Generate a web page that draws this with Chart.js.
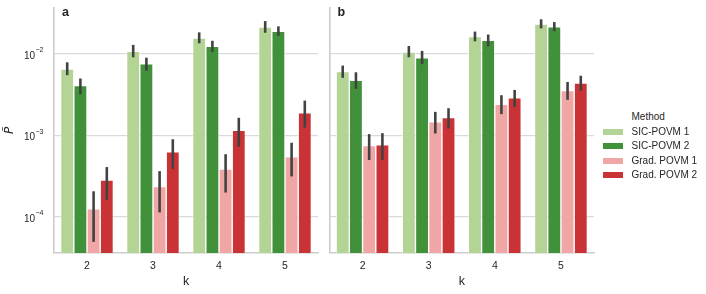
<!DOCTYPE html>
<html>
<head>
<meta charset="utf-8">
<script src="https://cdn.jsdelivr.net/npm/chart.js@4/dist/chart.umd.min.js"></script>
<style>
  html, body { margin: 0; padding: 0; background: #ffffff; }
  #wrap { position: relative; width: 706px; height: 294px; overflow: hidden; font-family: "Liberation Sans", Arial, sans-serif; color: #262626; }
  canvas { position: absolute; top: 0; }
  .lg { position: absolute; font-size: 10px; line-height: 14px; height: 14px; white-space: nowrap; }
  .sw { position: absolute; width: 20px; height: 6px; }
</style>
</head>
<body>
<div id="wrap">
  <canvas id="ca" width="322" height="294" style="left:0px"></canvas>
  <canvas id="cb" width="290" height="294" style="left:322px"></canvas>
  <div id="legend"></div>
</div>
<script>
// ---------- data ----------
const categories = ['2', '3', '4', '5'];
const methods = ['SIC-POVM 1', 'SIC-POVM 2', 'Grad. POVM 1', 'Grad. POVM 2'];
const panelLabels = ['a', 'b'];
const legendTitle = 'Method';
const xTitle = 'k';
const yTitle = 'P\u0303';
const yTickExponents = [-4, -3, -2];

// panel a: means and error-bar bounds
const aSic1 = [0.00655, 0.0108, 0.0157, 0.0214];
const aSic1Lo = [0.0055, 0.0091, 0.0135, 0.0182];
const aSic1Hi = [0.0079, 0.0129, 0.0184, 0.0253];
const aSic2 = [0.0041, 0.00755, 0.0124, 0.019];
const aSic2Lo = [0.0032, 0.00625, 0.0106, 0.0167];
const aSic2Hi = [0.0050, 0.0090, 0.0145, 0.0218];
const aGrad1 = [1.26e-4, 2.36e-4, 3.88e-4, 5.48e-4];
const aGrad1Lo = [4.96e-5, 1.14e-4, 2.0e-4, 3.15e-4];
const aGrad1Hi = [2.07e-4, 3.66e-4, 5.9e-4, 8.15e-4];
const aGrad2 = [2.84e-4, 6.3e-4, 1.16e-3, 1.9e-3];
const aGrad2Lo = [1.63e-4, 3.88e-4, 7.3e-4, 1.25e-3];
const aGrad2Hi = [4.1e-4, 9.0e-4, 1.65e-3, 2.68e-3];

// panel b
const bSic1 = [6.08e-3, 0.01057, 0.0163, 0.0233];
const bSic1Lo = [5.1e-3, 0.0091, 0.0143, 0.0206];
const bSic1Hi = [7.2e-3, 0.0125, 0.0188, 0.0266];
const bSic2 = [4.76e-3, 0.0090, 0.0147, 0.0216];
const bSic2Lo = [3.73e-3, 0.0075, 0.0124, 0.019];
const bSic2Hi = [5.96e-3, 0.0109, 0.0173, 0.0246];
const bGrad1 = [7.55e-4, 1.47e-3, 2.42e-3, 3.56e-3];
const bGrad1Lo = [5.0e-4, 1.06e-3, 1.83e-3, 2.74e-3];
const bGrad1Hi = [1.04e-3, 1.95e-3, 3.12e-3, 4.54e-3];
const bGrad2 = [7.69e-4, 1.66e-3, 2.89e-3, 4.41e-3];
const bGrad2Lo = [5.0e-4, 1.22e-3, 2.24e-3, 3.53e-3];
const bGrad2Hi = [1.07e-3, 2.16e-3, 3.62e-3, 5.41e-3];

// ---------- styles ----------
const colors = ['#b3d495', '#40913a', '#efa6a5', '#ca3335'];
const FONT = '"Liberation Sans", Arial, sans-serif';
const TEXT = '#262626';
const GRID = '#dadada';
const SPINE = '#cccccc';
const Y_MIN = 3.625e-5;
const Y_MAX = 0.0366;

Chart.defaults.font.family = FONT;
Chart.defaults.color = TEXT;

const errorBars = {
  id: 'errorBars',
  afterDatasetsDraw(chart) {
    const ctx = chart.ctx;
    const ys = chart.scales.y;
    ctx.save();
    ctx.strokeStyle = '#424242';
    ctx.lineWidth = 2.6;
    ctx.lineCap = 'butt';
    chart.data.datasets.forEach((ds, i) => {
      const meta = chart.getDatasetMeta(i);
      meta.data.forEach((el, j) => {
        const y1 = ys.getPixelForValue(ds.errLo[j]);
        const y2 = ys.getPixelForValue(ds.errHi[j]);
        ctx.beginPath();
        ctx.moveTo(el.x, y1);
        ctx.lineTo(el.x, y2);
        ctx.stroke();
      });
    });
    ctx.restore();
  }
};

const panelLabel = {
  id: 'panelLabel',
  afterDraw(chart, args, opts) {
    const ctx = chart.ctx;
    ctx.save();
    ctx.font = 'bold 12.5px ' + FONT;
    ctx.fillStyle = TEXT;
    ctx.textAlign = 'left';
    ctx.textBaseline = 'middle';
    ctx.fillText(opts.text, chart.chartArea.left + 8, 12.5);
    ctx.restore();
  }
};

const powTicks = {
  id: 'powTicks',
  afterDraw(chart, args, opts) {
    if (!opts.show) return;
    const ctx = chart.ctx;
    const ys = chart.scales.y;
    ctx.save();
    ctx.fillStyle = TEXT;
    ctx.textBaseline = 'middle';
    ctx.textAlign = 'right';
    yTickExponents.forEach(e => {
      const y = ys.getPixelForValue(Math.pow(10, e));
      const sup = '\u2212' + Math.abs(e);
      ctx.font = '7px ' + FONT;
      const sw = ctx.measureText(sup).width;
      const right = ys.right - 10.5;
      ctx.fillText(sup, right, y - 3.5);
      ctx.font = '10px ' + FONT;
      ctx.fillText('10', right - sw - 0.5, y + 2);
    });
    ctx.restore();
  }
};

function makeDatasets(vals, los, his) {
  return methods.map((m, i) => ({
    label: m,
    data: vals[i],
    errLo: los[i],
    errHi: his[i],
    backgroundColor: colors[i],
    borderColor: '#ffffff',
    borderWidth: 0.7,
    borderSkipped: 'start',
    categoryPercentage: 0.8,
    barPercentage: 1.0
  }));
}

function makeChart(id, datasets, label, isLeft, rightPad) {
  return new Chart(document.getElementById(id), {
    type: 'bar',
    data: { labels: categories, datasets },
    plugins: [errorBars, panelLabel, powTicks],
    options: {
      responsive: false,
      animation: false,
      devicePixelRatio: 1,
      layout: { padding: { left: 0, right: rightPad, top: 8, bottom: 0 } },
      plugins: {
        legend: { display: false },
        tooltip: { enabled: false },
        panelLabel: { text: label },
        powTicks: { show: isLeft }
      },
      scales: {
        x: {
          type: 'category',
          offset: true,
          grid: { display: false, drawTicks: false },
          border: { display: true, color: SPINE, width: 1.6 },
          ticks: { font: { size: 10.5 }, color: TEXT, padding: 7 },
          title: { display: true, text: xTitle, color: TEXT, font: { size: 12.5 }, padding: { top: 0, bottom: 4.5 } },
          afterFit: s => { s.height = 41; }
        },
        y: {
          type: 'logarithmic',
          min: Y_MIN,
          max: Y_MAX,
          afterBuildTicks: s => { s.ticks = yTickExponents.map(e => ({ value: Math.pow(10, e) })); },
          grid: { color: GRID, lineWidth: 1.2, drawTicks: false },
          border: { display: true, color: SPINE, width: 1.6 },
          ticks: { display: false },
          title: { display: isLeft, text: yTitle, color: TEXT, font: { size: 12, style: 'italic', family: '"DejaVu Sans", sans-serif', lineHeight: 1.2 }, padding: { top: 3, bottom: 0 } },
          afterFit: s => { s.width = isLeft ? 54 : 7.5; }
        }
      }
    }
  });
}

makeChart('ca', makeDatasets([aSic1, aSic2, aGrad1, aGrad2], [aSic1Lo, aSic2Lo, aGrad1Lo, aGrad2Lo], [aSic1Hi, aSic2Hi, aGrad1Hi, aGrad2Hi]), panelLabels[0], true, 4);
makeChart('cb', makeDatasets([bSic1, bSic2, bGrad1, bGrad2], [bSic1Lo, bSic2Lo, bGrad1Lo, bGrad2Lo], [bSic1Hi, bSic2Hi, bGrad1Hi, bGrad2Hi]), panelLabels[1], false, 18);

// legend
const lg = document.getElementById('legend');
const t = document.createElement('div');
t.className = 'lg';
t.style.left = '631.5px';
t.style.top = '110.3px';
t.textContent = legendTitle;
lg.appendChild(t);
methods.forEach((m, i) => {
  const cy = 132 + i * 14.25;
  const sw = document.createElement('div');
  sw.className = 'sw';
  sw.style.left = '602.5px';
  sw.style.top = (cy - 3) + 'px';
  sw.style.background = colors[i];
  lg.appendChild(sw);
  const tx = document.createElement('div');
  tx.className = 'lg';
  tx.style.left = '631.5px';
  tx.style.top = (cy - 7) + 'px';
  tx.textContent = m;
  lg.appendChild(tx);
});
</script>
</body>
</html>
